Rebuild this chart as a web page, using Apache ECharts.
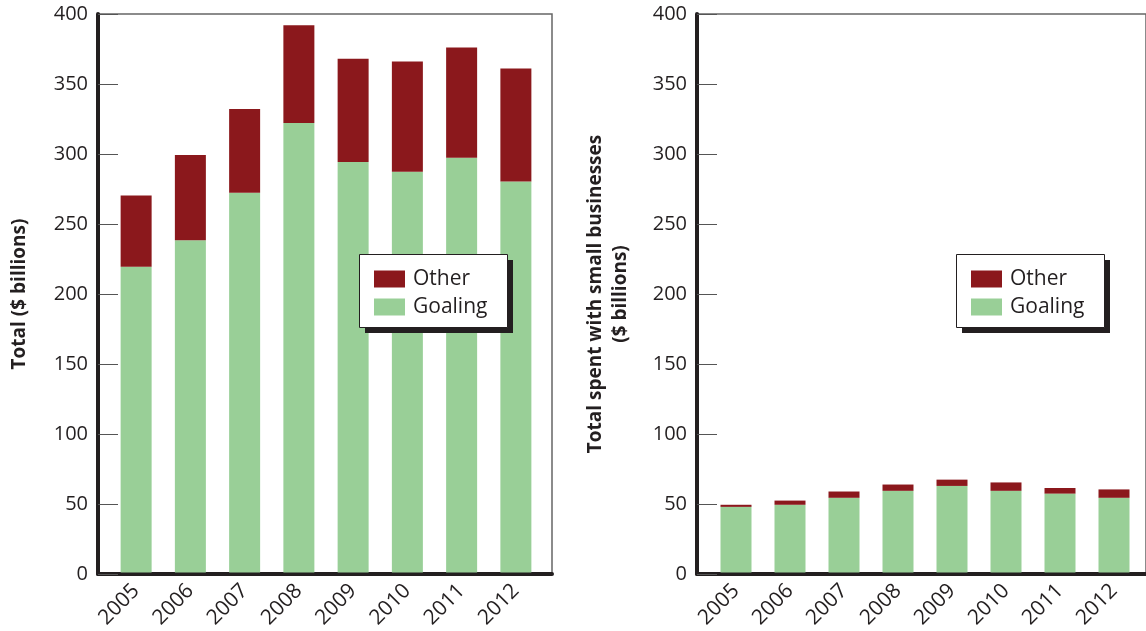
<!DOCTYPE html>
<html>
<head>
<meta charset="utf-8">
<style>
  html, body { margin: 0; padding: 0; background: #fff; }
  #chart { width: 1146px; height: 631px; }
</style>
<script src="https://cdn.jsdelivr.net/npm/echarts@6/dist/echarts.min.js"></script>
</head>
<body>
<div id="chart"></div>
<script>
var years = ["2005", "2006", "2007", "2008", "2009", "2010", "2011", "2012"];
var yTicks = [0, 50, 100, 150, 200, 250, 300, 350, 400];

// left panel: total ($ billions)
var totalGoaling = [219, 238, 272, 322, 294, 287, 297, 280];
var totalOther = [51, 61, 60, 70, 74, 79, 79, 81];

// right panel: spent with small businesses ($ billions)
var smallGoaling = [47, 48.5, 53.5, 58.5, 62, 58.5, 56.5, 53.5];
var smallOther = [1.5, 3, 4.5, 4.5, 4.5, 6, 4, 6];

var ink = "#231F20";
var red = "#8B181C";
var green = "#99CF97";
var font = "Open Sans";

var dom = document.getElementById("chart");
var myChart = echarts.init(dom, null, { renderer: "canvas" });

function frameX(gi) {
  return {
    gridIndex: gi, type: "value", min: 0, max: 1,
    axisLine: { show: true, lineStyle: { color: ink, width: 4 } },
    axisTick: { show: false }, axisLabel: { show: false }, splitLine: { show: false }
  };
}
function barX(gi) {
  return {
    gridIndex: gi, type: "category", data: years,
    axisLine: { show: false }, axisTick: { show: false },
    axisLabel: { rotate: 45, fontSize: 21, color: ink, fontFamily: font, margin: 15 }
  };
}
function frameY(gi, name, gap) {
  return {
    gridIndex: gi, type: "value", min: yTicks[0], max: yTicks[yTicks.length - 1], interval: 50,
    axisLine: { show: true, lineStyle: { color: ink, width: 4 } },
    axisTick: { show: true, inside: true, length: 20, lineStyle: { color: "#555", width: 1 } },
    axisLabel: { fontSize: 20, color: ink, fontFamily: font, margin: 10 },
    splitLine: { show: false },
    name: name, nameLocation: "middle", nameGap: gap, nameRotate: 90,
    nameTextStyle: { fontSize: 19, fontWeight: "bold", color: ink, fontFamily: font, lineHeight: 25 }
  };
}
function barY(gi) {
  return {
    gridIndex: gi, type: "value", min: 0, max: 400, show: false
  };
}
function legendAt(left) {
  return {
    orient: "vertical", left: left + 15, top: 267,
    data: ["Other", "Goaling"],
    icon: "rect",
    itemWidth: 31, itemHeight: 17, itemGap: 4,
    padding: 0, z: 10,
    textStyle: { fontSize: 21, lineHeight: 24, color: ink, fontFamily: font, padding: [0, 0, 0, 3] },
    selectedMode: false
  };
}
// legend frame with hard drop shadow
function legendBox(left) {
  return [
    { type: "rect", left: left + 6, top: 260, z: 5, shape: { width: 148, height: 73 }, style: { fill: ink } },
    { type: "rect", left: left, top: 254, z: 6, shape: { width: 148, height: 73 }, style: { fill: "#fff", stroke: ink, lineWidth: 1 } }
  ];
}
function bars(name, data, color, xi, stack) {
  return {
    name: name, type: "bar", stack: stack, data: data,
    xAxisIndex: xi, yAxisIndex: xi, barWidth: 31,
    itemStyle: { color: color }, emphasis: { disabled: true }
  };
}

var option = {
  animation: false,
  textStyle: { fontFamily: font },
  grid: [
    { left: 98, top: 14, width: 454, height: 560, show: true, borderColor: "#666", borderWidth: 1.5, backgroundColor: "transparent" },
    { left: 109, top: 14, width: 434, height: 560 },
    { left: 697, top: 14, width: 480, height: 560, show: true, borderColor: "#666", borderWidth: 1.5, backgroundColor: "transparent" },
    { left: 709, top: 14, width: 432, height: 560 }
  ],
  xAxis: [frameX(0), barX(1), frameX(2), barX(3)],
  yAxis: [
    frameY(0, "Total ($ billions)", 66),
    barY(1),
    frameY(2, "Total spent with small businesses\n($ billions)", 64),
    barY(3)
  ],
  graphic: legendBox(359).concat(legendBox(956)),
  legend: [legendAt(359), legendAt(956)],
  series: [
    bars("Goaling", totalGoaling, green, 1, "left"),
    bars("Other", totalOther, red, 1, "left"),
    bars("Goaling", smallGoaling, green, 3, "right"),
    bars("Other", smallOther, red, 3, "right")
  ]
};

myChart.setOption(option);
window.addEventListener("resize", myChart.resize);
</script>
</body>
</html>
